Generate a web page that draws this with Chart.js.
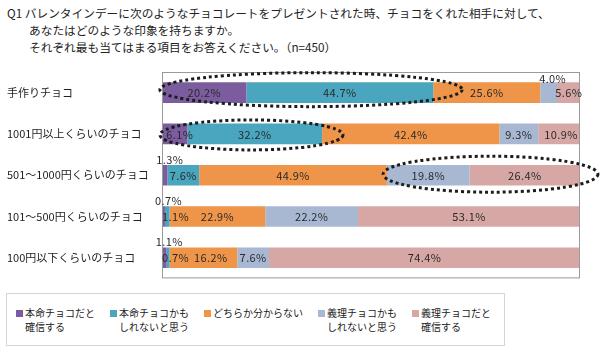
<!DOCTYPE html>
<html>
<head>
<meta charset="utf-8">
<script src="https://cdn.jsdelivr.net/npm/chart.js@4.4.1/dist/chart.umd.min.js"></script>
<style>
body { margin: 0; background: #fff; font-family: "Noto Sans CJK JP", sans-serif; color: #222; }
#wrap { position: relative; width: 600px; height: 361px; overflow: hidden; }
#title { position: absolute; left: 7px; top: 4px; font-size: 11.7px; line-height: 17px; white-space: nowrap; }
#title .sub { padding-left: 22px; }
#box { position: absolute; left: 0; top: 62px; width: 600px; height: 226px; }
#legend { position: absolute; left: 6px; top: 293px; width: 499px; height: 53px; border: 1px solid #d4d4d4; box-sizing: border-box;
  display: flex; gap: 15px; padding: 12px 0 0 9px; }
.item { position: relative; font-size: 10px; line-height: 14px; white-space: pre-line; padding-left: 9px; }
.item i { position: absolute; left: 0; top: 4px; width: 7px; height: 7px; }
</style>
</head>
<body>
<div id="wrap">
  <div id="title">
    <div>Q1 バレンタインデーに次のようなチョコレートをプレゼントされた時、チョコをくれた相手に対して、</div>
    <div class="sub">あなたはどのような印象を持ちますか。</div>
    <div class="sub">それぞれ最も当てはまる項目をお答えください。（n=450）</div>
  </div>
  <div id="box"><canvas id="myChart"></canvas></div>
  <div id="legend"></div>
</div>
<script>
let categories = ['手作りチョコ', '1001円以上くらいのチョコ', '501〜1000円くらいのチョコ', '101〜500円くらいのチョコ', '100円以下くらいのチョコ'];
let seriesNames = ['本命チョコだと\n確信する', '本命チョコかも\nしれないと思う', 'どちらか分からない', '義理チョコかも\nしれないと思う', '義理チョコだと\n確信する'];
let honmeiSure = [20.2, 6.1, 1.3, 0.7, 1.1];
let honmeiMaybe = [44.7, 32.2, 7.6, 1.1, 0.7];
let unsure = [25.6, 42.4, 44.9, 22.9, 16.2];
let giriMaybe = [4.0, 9.3, 19.8, 22.2, 7.6];
let giriSure = [5.6, 10.9, 26.4, 53.1, 74.4];
let colors = ['#7b5c9f', '#4aa5bf', '#ef9549', '#a8b8d2', '#d7a7a6'];

// dotted rings drawn over the bars (row index, value range)
let rings = [
    { row: 0, from: -0.5, to: 71.8, dy: -3, ry: 17 },
    { row: 1, from: -0.5, to: 43.3, dy: 1, ry: 15 },
    { row: 2, from: 52.9, to: 104.3, dy: -1, ry: 18 }
];

let series = [honmeiSure, honmeiMaybe, unsure, giriMaybe, giriSure];

let frame = {
    id: 'frame',
    afterDatasetsDraw(chart) {
        const a = chart.chartArea;
        const ctx = chart.ctx;
        ctx.save();
        ctx.strokeStyle = '#9a9a9a';
        ctx.lineWidth = 1;
        ctx.strokeRect(a.left + 0.5, a.top + 0.5, a.right - a.left - 1, a.bottom - a.top - 1);
        ctx.restore();
    }
};

let valueLabels = {
    id: 'valueLabels',
    afterDatasetsDraw(chart) {
        const ctx = chart.ctx;
        ctx.save();
        ctx.font = '11px "Noto Sans CJK JP"';
        ctx.letterSpacing = '0.4px';
        ctx.fillStyle = '#2a2a2a';
        ctx.textBaseline = 'middle';
        const lastRight = {};
        chart.data.datasets.forEach((ds, di) => {
            chart.getDatasetMeta(di).data.forEach((bar, i) => {
                const v = ds.data[i];
                const text = v.toFixed(1) + '%';
                const w = ctx.measureText(text).width;
                const top = bar.y - bar.height / 2;
                let x = (bar.base + bar.x) / 2;
                let y = bar.y;
                let inBar = true;
                if (di === 0 && v < 2) {
                    x += 5;
                    y = top - 6;
                    inBar = false;
                } else if (di === 1 && v < 2) {
                    x = chart.chartArea.left + w / 2;
                } else if (v < 5 && di === 3) {
                    x += 4;
                    y = top - 4;
                    inBar = false;
                } else if (di === 0 && v < 10) {
                    x += 5;
                }
                if (inBar) {
                    const prev = lastRight[i];
                    if (prev !== undefined && x - w / 2 < prev + 5) x = prev + 5 + w / 2;
                    lastRight[i] = x + w / 2;
                }
                ctx.textAlign = 'center';
                ctx.fillText(text, x, y + 0.5);
            });
        });
        ctx.restore();
    }
};

let ringPlugin = {
    id: 'rings',
    afterDraw(chart) {
        const ctx = chart.ctx;
        const xs = chart.scales.x;
        const ys = chart.scales.y;
        ctx.save();
        ctx.strokeStyle = '#1c1c1c';
        ctx.lineWidth = 3;
        ctx.setLineDash([3, 3]);
        rings.forEach(r => {
            const x1 = xs.getPixelForValue(r.from);
            const x2 = xs.getPixelForValue(r.to);
            const cy = ys.getPixelForValue(r.row) + r.dy;
            ctx.beginPath();
            ctx.ellipse((x1 + x2) / 2, cy, (x2 - x1) / 2, r.ry, 0, 0, Math.PI * 2);
            ctx.stroke();
        });
        ctx.restore();
    }
};

let context = document.getElementById('myChart').getContext('2d');
let chart = new Chart(context, {
    type: 'bar',
    data: {
        labels: categories,
        datasets: series.map((d, k) => ({
            label: seriesNames[k],
            data: d,
            backgroundColor: colors[k],
            borderWidth: 0,
            categoryPercentage: 1,
            barPercentage: 0.5
        }))
    },
    options: {
        indexAxis: 'y',
        responsive: true,
        maintainAspectRatio: false,
        animation: false,
        layout: { padding: { left: 7, right: 20, top: 10, bottom: 5 } },
        plugins: {
            legend: { display: false },
            tooltip: { enabled: false }
        },
        scales: {
            x: { stacked: true, min: 0, max: 100, display: false },
            y: {
                stacked: true,
                grid: { display: false },
                border: { display: false },
                ticks: {
                    crossAlign: 'far',
                    color: '#222',
                    font: { family: '"Noto Sans CJK JP"', size: 11 }
                },
                afterFit(s) { s.width = 155; }
            }
        }
    },
    plugins: [frame, valueLabels, ringPlugin]
});

let legend = document.getElementById('legend');
chart.data.datasets.forEach(ds => {
    const item = document.createElement('div');
    item.className = 'item';
    const sw = document.createElement('i');
    sw.style.background = ds.backgroundColor;
    item.appendChild(sw);
    item.appendChild(document.createTextNode(ds.label));
    legend.appendChild(item);
});
</script>
</body>
</html>
